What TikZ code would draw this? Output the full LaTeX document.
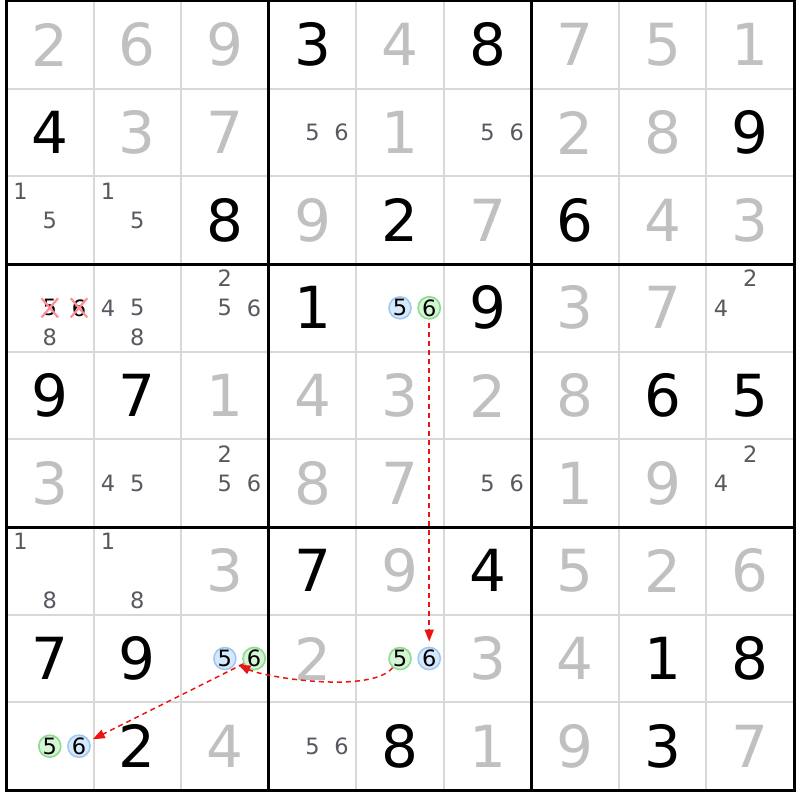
\documentclass[tikz,border=0pt]{standalone}
\usepackage{fontspec}
\setmainfont{DejaVu Sans}
\usetikzlibrary{arrows.meta,shapes.misc}
\definecolor{gridthin}{RGB}{216,216,216}
\definecolor{solvedc}{RGB}{192,192,192}
\definecolor{candc}{RGB}{88,88,96}
\definecolor{bluefill}{RGB}{214,232,252}
\definecolor{bluedraw}{RGB}{160,200,245}
\definecolor{greenfill}{RGB}{214,245,214}
\definecolor{greendraw}{RGB}{140,220,140}
\definecolor{crossc}{RGB}{255,140,150}
\definecolor{chainred}{RGB}{235,20,20}
\tikzset{
  thingrid/.style={draw=gridthin,line width=2pt},
  thickgrid/.style={draw=black,line width=3pt},
  given/.style={font=\fontsize{58}{58}\selectfont,text=black,inner sep=0pt},
  solved/.style={given,text=solvedc},
  cand/.style={font=\fontsize{22.5}{22.5}\selectfont,text=candc,inner sep=0pt},
  hlcand/.style={cand,text=black,circle,minimum size=22pt,line width=1.6pt},
  hlblue/.style={hlcand,draw=bluedraw,fill=bluefill},
  hlgreen/.style={hlcand,draw=greendraw,fill=greenfill},
  crossed/.style={cand,text=black,cross out,draw=crossc,line width=2.2pt,minimum width=14pt,minimum height=17pt},
  chain/.style={draw=chainred,line width=1.5pt,dash pattern=on 5pt off 4pt,-{Triangle[length=12pt,width=9pt]}},
}
\begin{document}
\begin{tikzpicture}[x=1pt,y=1pt]
\useasboundingbox (0,0) rectangle (800,800);
\fill[white] (0,0) rectangle (800,800);
\begin{scope}[shift={(6pt,799pt)},x=87.56pt,y=-87.67pt]
  \foreach \i in {1,2,4,5,7,8} {
    \draw[thingrid] (\i,0) -- (\i,9);
    \draw[thingrid] (0,\i) -- (9,\i);
  }
  \foreach \i in {3,6} {
    \draw[thickgrid] (\i,0) -- (\i,9);
    \draw[thickgrid] (0,\i) -- (9,\i);
  }
  \draw[thickgrid] (0,0) rectangle (9,9);
  % givens
  \foreach \r/\c/\d in {1/4/3,1/6/8,2/1/4,2/9/9,3/3/8,3/5/2,3/7/6,4/4/1,4/6/9,5/1/9,5/2/7,5/8/6,5/9/5,7/4/7,7/6/4,8/1/7,8/2/9,8/8/1,8/9/8,9/2/2,9/5/8,9/8/3}
    \node[given] (v-\r-\c) at (\c-0.5,\r-0.5) {\d};
  % solved
  \foreach \r/\c/\d in {1/1/2,1/2/6,1/3/9,1/5/4,1/7/7,1/8/5,1/9/1,2/2/3,2/3/7,2/5/1,2/7/2,2/8/8,3/4/9,3/6/7,3/8/4,3/9/3,4/7/3,4/8/7,5/3/1,5/4/4,5/5/3,5/6/2,5/7/8,6/1/3,6/4/8,6/5/7,6/7/1,6/8/9,7/3/3,7/5/9,7/7/5,7/8/2,7/9/6,8/4/2,8/6/3,8/7/4,9/3/4,9/6/1,9/7/9,9/9/7}
    \node[solved] (v-\r-\c) at (\c-0.5,\r-0.5) {\d};
  % plain candidates
  \foreach \r/\c/\d in {2/4/5,2/4/6,2/6/5,2/6/6,3/1/1,3/1/5,3/2/1,3/2/5,4/1/8,4/2/4,4/2/5,4/2/8,4/3/2,4/3/5,4/3/6,4/9/2,4/9/4,6/2/4,6/2/5,6/3/2,6/3/5,6/3/6,6/6/5,6/6/6,6/9/2,6/9/4,7/1/1,7/1/8,7/2/1,7/2/8,9/4/5,9/4/6} {
    \pgfmathsetmacro\candx{\c-0.5+(mod(\d-1,3)-1)/3}
    \pgfmathsetmacro\candy{\r-0.5+(floor((\d-1)/3)-1)/3}
    \node[cand] (c-\r-\c-\d) at (\candx,\candy) {\d};
  }
  % marked candidates
  \foreach \r/\c/\d/\s in {4/5/5/hlblue,4/5/6/hlgreen,8/3/5/hlblue,8/3/6/hlgreen,8/5/5/hlgreen,8/5/6/hlblue,9/1/5/hlgreen,9/1/6/hlblue,4/1/5/crossed,4/1/6/crossed} {
    \pgfmathsetmacro\candx{\c-0.5+(mod(\d-1,3)-1)/3}
    \pgfmathsetmacro\candy{\r-0.5+(floor((\d-1)/3)-1)/3}
    \node[\s] (h-\r-\c-\d) at (\candx,\candy) {\d};
  }
\end{scope}
\draw[chain,shorten <=3pt,shorten >=5pt] (h-4-5-6) -- (h-8-5-6);
\draw[chain,shorten >=3pt] (h-8-5-5) to[out=231,in=-25,looseness=0.55] (h-8-3-5);
\draw[chain,shorten >=3.5pt] (h-8-3-6) -- (h-9-1-6);
\end{tikzpicture}
\end{document}
